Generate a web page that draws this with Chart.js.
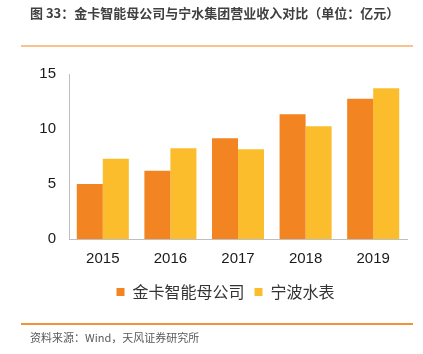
<!DOCTYPE html>
<html><head><meta charset="utf-8">
<script src="https://cdn.jsdelivr.net/npm/chart.js@4/dist/chart.umd.min.js"></script>
<style>
html,body{margin:0;padding:0;background:#fff;width:423px;height:354px;overflow:hidden;}
#wrap{position:relative;width:423px;height:354px;}
canvas{position:absolute;left:0;top:0;}
.t{position:absolute;white-space:nowrap;font-family:"Noto Sans CJK SC","Liberation Sans",sans-serif;}
#title{left:30px;top:4px;font-size:13px;font-weight:bold;color:#404040;line-height:18px;}
#foot{left:30px;top:329px;font-size:11px;color:#595959;line-height:16px;}
.ln{position:absolute;left:21px;width:392px;}
</style></head>
<body><div id="wrap">
<canvas id="c" width="423" height="354"></canvas>
<div class="t" id="title">图 33：金卡智能母公司与宁水集团营业收入对比（单位：亿元）</div>
<div class="ln" style="top:45px;height:2px;background:#FAC38C;"></div>
<div class="ln" style="top:323px;height:2px;background:#F39236;"></div>
<div class="t" id="foot">资料来源：Wind，天风证券研究所</div>
</div>
<script>
const categories = ['2015','2016','2017','2018','2019'];
const jinka = [5.0, 6.2, 9.15, 11.35, 12.75];
const ningbo = [7.3, 8.25, 8.15, 10.25, 13.7];
const seriesNames = ['金卡智能母公司','宁波水表'];
const yTicks = [0,5,10,15];

const legendShift = {
  id: 'legendShift',
  afterLayout(chart) {
    if (chart.legend) { chart.legend.left += 22; chart.legend.right += 22; }
  }
};

new Chart(document.getElementById('c'), {
  type: 'bar',
  data: {
    labels: categories,
    datasets: [
      {label: seriesNames[0], data: jinka, backgroundColor: '#F28422', borderWidth: 0},
      {label: seriesNames[1], data: ningbo, backgroundColor: '#FBBD2C', borderWidth: 0}
    ]
  },
  plugins: [legendShift],
  options: {
    responsive: false,
    animation: false,
    devicePixelRatio: 1,
    layout: {padding: {left: 0, right: 16, top: 74, bottom: 44}},
    datasets: {bar: {categoryPercentage: 0.77, barPercentage: 1.0}},
    plugins: {
      legend: {
        position: 'bottom',
        labels: {
          boxWidth: 8, boxHeight: 8, padding: 10,
          color: '#333333',
          font: {family: '"Noto Sans CJK SC", sans-serif', size: 16}
        }
      },
      tooltip: {enabled: false}
    },
    scales: {
      x: {
        grid: {display: false, drawTicks: false},
        border: {display: true, color: '#BFBFBF', width: 1},
        ticks: {color: '#1a1a1a', padding: 11, font: {family: '"Liberation Sans", Arial, sans-serif', size: 15}},
        afterFit: s => { s.height = 35; }
      },
      y: {
        min: 0, max: 15,
        afterBuildTicks: s => { s.ticks = yTicks.map(v => ({value: v})); },
        grid: {display: false, drawTicks: false},
        border: {display: true, color: '#BFBFBF', width: 1},
        ticks: {color: '#1a1a1a', padding: 13, font: {family: '"Liberation Sans", Arial, sans-serif', size: 15}},
        afterFit: s => { s.width = 69; }
      }
    }
  }
});
</script>
</body></html>
